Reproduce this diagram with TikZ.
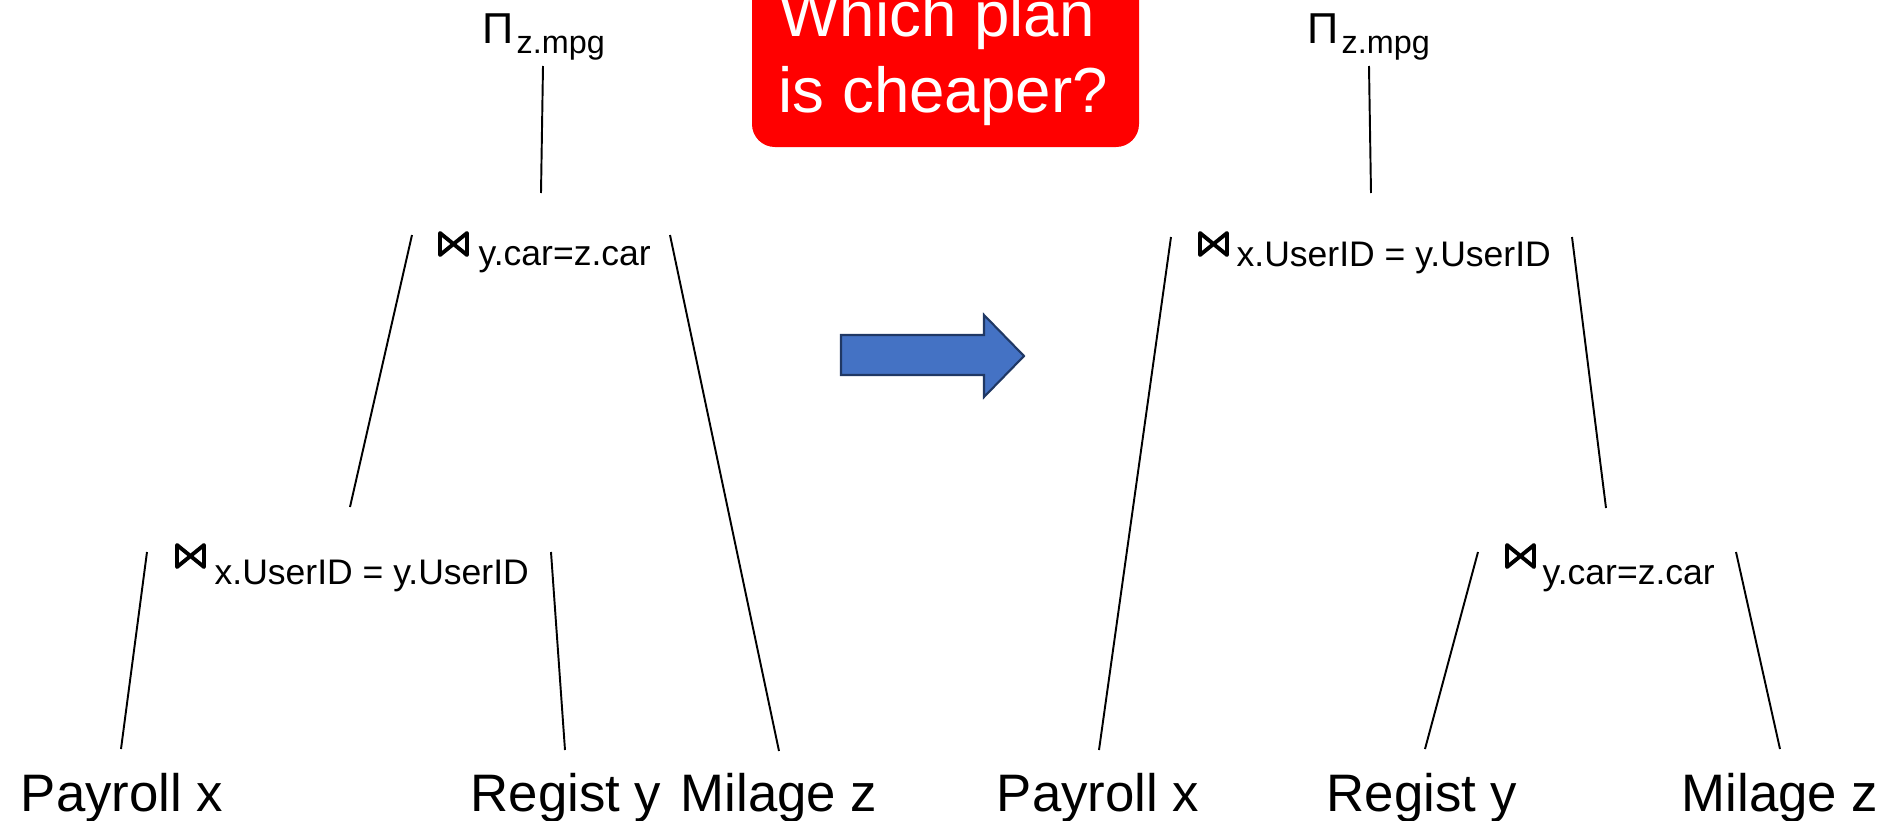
\documentclass[tikz,border=0pt]{standalone}
\usepackage{fontspec}
\setmainfont{Liberation Sans}
\definecolor{arrowfill}{HTML}{4472C4}
\definecolor{arrowline}{HTML}{203864}
\definecolor{alertred}{HTML}{FF0000}
% join symbol drawn as a bow tie, top-left corner at the given point
\newcommand\joinmark[1]{%
  \draw[line width=1.1pt,line join=round,line cap=round,shift={#1}]
    (2,2) -- (2,24) -- (29,2) -- (29,24) -- cycle;}
\begin{document}
\begin{tikzpicture}[x=0.01cm,y=-0.01cm,
  edge/.style={line width=0.55pt},
  leaf/.style={anchor=base,inner sep=0pt,font=\fontsize{15}{18}\selectfont},
  cond/.style={anchor=base west,inner sep=0pt,font=\fontsize{10.1}{12}\selectfont},
  projsub/.style={anchor=base west,inner sep=0pt,font=\fontsize{9.2}{11}\selectfont},
  projsym/.style={anchor=base west,inner sep=0pt,font=\fontsize{12.3}{14}\selectfont},
  alert/.style={anchor=base west,inner sep=0pt,text=white,font=\fontsize{18.1}{22}\selectfont},
]
\useasboundingbox (0,0) rectangle (1893,821);

% question box
\fill[alertred, rounded corners=6.5pt] (752,-40) rectangle (1139,147);
\node[alert] (q1) at (779,37) {Which plan};
\node[alert] (q2) at (778,113) {is cheaper?};

% transformation arrow
\draw[fill=arrowfill, draw=arrowline, line width=0.6pt]
  (841,335) -- (984,335) -- (984,315) -- (1024,356) -- (984,397) -- (984,375) -- (841,375) -- cycle;

% ---------- left plan ----------
\node[projsym] (lpi) at (482,43) {Π};
\node[projsub] (lpis) at (516,53) {z.mpg};
\joinmark{(438,231)}
\node[cond] (ltop) at (478,265) {y.car=z.car};
\joinmark{(175,543)}
\node[cond] (lbot) at (214,584) {x.UserID = y.UserID};
\node[leaf] (lpay) at (122,811) {Payroll x};
\node[leaf] (lreg) at (566,811) {Regist y};
\node[leaf] (lmil) at (779,811) {Milage z};

\coordinate (lpiA) at (543,66);   \coordinate (lpiB) at (541,193);
\coordinate (ltopLA) at (412,235); \coordinate (ltopLB) at (350,507);
\coordinate (ltopRA) at (670,235); \coordinate (ltopRB) at (779,751);
\coordinate (lbotLA) at (147,552); \coordinate (lbotLB) at (121,749);
\coordinate (lbotRA) at (551,552); \coordinate (lbotRB) at (565,750);
\draw[edge] (lpiA) -- (lpiB);
\draw[edge] (ltopLA) -- (ltopLB);
\draw[edge] (ltopRA) -- (ltopRB);
\draw[edge] (lbotLA) -- (lbotLB);
\draw[edge] (lbotRA) -- (lbotRB);

% ---------- right plan ----------
\node[projsym] (rpi) at (1307,43) {Π};
\node[projsub] (rpis) at (1341,53) {z.mpg};
\joinmark{(1198,231)}
\node[cond] (rtop) at (1236,266) {x.UserID = y.UserID};
\joinmark{(1505,543)}
\node[cond] (rbot) at (1542,584) {y.car=z.car};
\node[leaf] (rpay) at (1098,811) {Payroll x};
\node[leaf] (rreg) at (1422,811) {Regist y};
\node[leaf] (rmil) at (1780,811) {Milage z};

\coordinate (rpiA) at (1369,66);   \coordinate (rpiB) at (1371,193);
\coordinate (rtopLA) at (1171,237); \coordinate (rtopLB) at (1099,750);
\coordinate (rtopRA) at (1572,237); \coordinate (rtopRB) at (1606,508);
\coordinate (rbotLA) at (1478,552); \coordinate (rbotLB) at (1425,749);
\coordinate (rbotRA) at (1736,552); \coordinate (rbotRB) at (1780,749);
\draw[edge] (rpiA) -- (rpiB);
\draw[edge] (rtopLA) -- (rtopLB);
\draw[edge] (rtopRA) -- (rtopRB);
\draw[edge] (rbotLA) -- (rbotLB);
\draw[edge] (rbotRA) -- (rbotRB);
\end{tikzpicture}
\end{document}
